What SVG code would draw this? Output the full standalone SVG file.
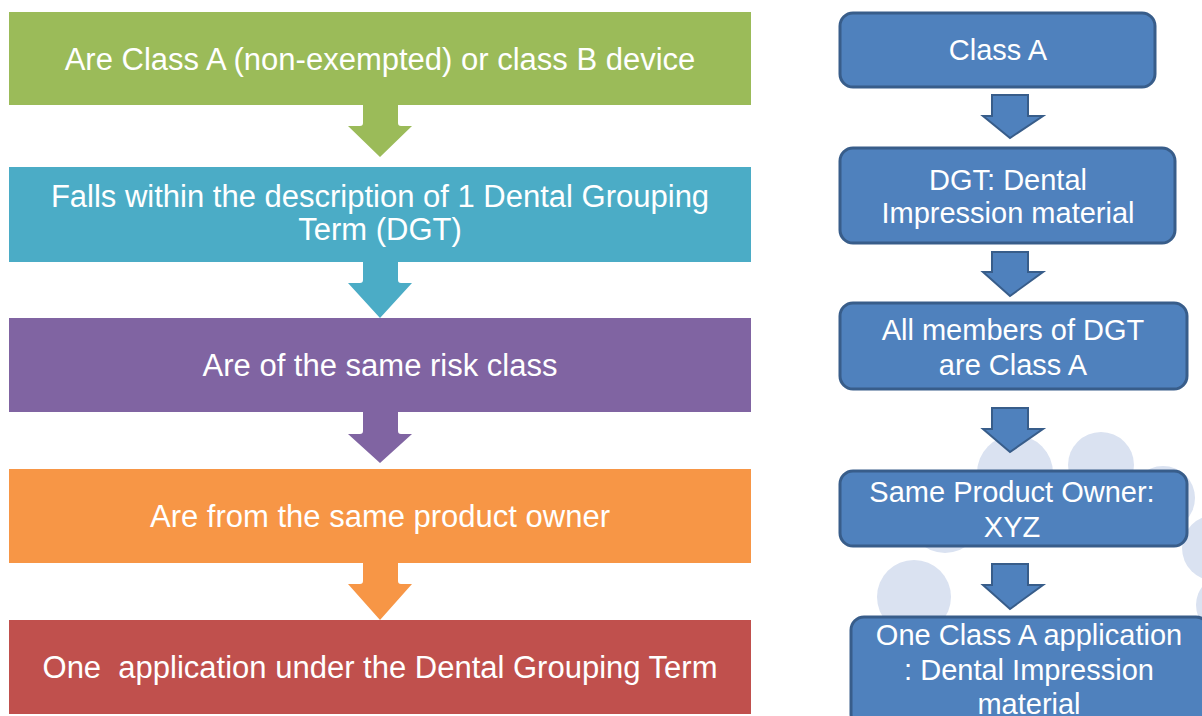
<svg xmlns="http://www.w3.org/2000/svg" width="1202" height="716" viewBox="0 0 1202 716">
<style>
.lt{font-family:"Liberation Sans",Arial,sans-serif;font-size:31px;fill:#fff;text-anchor:middle;white-space:pre}
.rt{font-family:"Liberation Sans",Arial,sans-serif;font-size:29px;fill:#fff;text-anchor:middle}
.rb{fill:#4F81BD;stroke:#385D8A;stroke-width:3}
.ra{fill:#4F81BD;stroke:#385D8A;stroke-width:2;stroke-linejoin:miter}
.bg{fill:#DAE2F1}
</style>
<rect width="1202" height="716" fill="#fff"/>
<g id="background">
<circle class="bg" cx="1015" cy="473" r="38"/>
<circle class="bg" cx="1101" cy="465" r="33"/>
<circle class="bg" cx="1163" cy="498" r="32"/>
<circle class="bg" cx="1215" cy="548" r="33"/>
<circle class="bg" cx="945" cy="515" r="38"/>
<circle class="bg" cx="914" cy="597" r="37"/>
<circle class="bg" cx="1226" cy="605" r="30"/>
</g>
<g id="left1"><rect x="9" y="12" width="742" height="93" fill="#9BBB59"/><text class="lt" x="380" y="70">Are Class A (non-exempted) or class B device</text></g>
<g id="left2"><rect x="9" y="167" width="742" height="95" fill="#4BACC6"/><text class="lt" x="380" y="207">Falls within the description of 1 Dental Grouping</text><text class="lt" x="380" y="240">Term (DGT)</text></g>
<g id="left3"><rect x="9" y="318" width="742" height="94" fill="#8064A2"/><text class="lt" x="380" y="376">Are of the same risk class</text></g>
<g id="left4"><rect x="9" y="469" width="742" height="94" fill="#F79646"/><text class="lt" x="380" y="527">Are from the same product owner</text></g>
<g id="left5"><rect x="9" y="620" width="742" height="94" fill="#C0504D"/><text class="lt" x="380" y="678">One  application under the Dental Grouping Term</text></g>
<g id="right1"><rect class="rb" x="840" y="13" width="315" height="74" rx="13"/><text class="rt" x="998" y="60">Class A</text></g>
<g id="right2"><rect class="rb" x="840" y="148" width="335" height="95" rx="13"/><text class="rt" x="1008" y="190">DGT: Dental</text><text class="rt" x="1008" y="223">Impression material</text></g>
<g id="right3"><rect class="rb" x="840" y="303" width="347" height="86" rx="13"/><text class="rt" x="1013" y="340">All members of DGT</text><text class="rt" x="1013" y="375">are Class A</text></g>
<g id="right4"><rect class="rb" x="840" y="471" width="347" height="75" rx="13"/><text class="rt" x="1012" y="502">Same Product Owner:</text><text class="rt" x="1012" y="537">XYZ</text></g>
<g id="right5"><rect class="rb" x="851" y="617" width="358" height="110" rx="13"/><text class="rt" x="1029" y="645">One Class A application</text><text class="rt" x="1029" y="680">: Dental Impression</text><text class="rt" x="1029" y="714">material</text></g>
<g id="connectors">
<path fill="#9BBB59" d="M363 105H398V123Q398 126 401 126H412L380 157L348 126H360Q363 126 363 123Z"/>
<path fill="#4BACC6" d="M363 262H398V280Q398 283 401 283H412L380 318L348 283H360Q363 283 363 280Z"/>
<path fill="#8064A2" d="M363 412H398V431Q398 434 401 434H412L380 463L348 434H360Q363 434 363 431Z"/>
<path fill="#F79646" d="M363 563H398V581Q398 584 401 584H412L380 620L348 584H360Q363 584 363 581Z"/>
<path class="ra" d="M992 95H1028V116H1043L1010 138L983 116H992Z"/>
<path class="ra" d="M992 252H1028V272H1043L1010 296L983 272H992Z"/>
<path class="ra" d="M992 408H1028V429H1043L1010 452L983 429H992Z"/>
<path class="ra" d="M992 564H1028V585H1043L1010 609L983 585H992Z"/>
</g>
</svg>
